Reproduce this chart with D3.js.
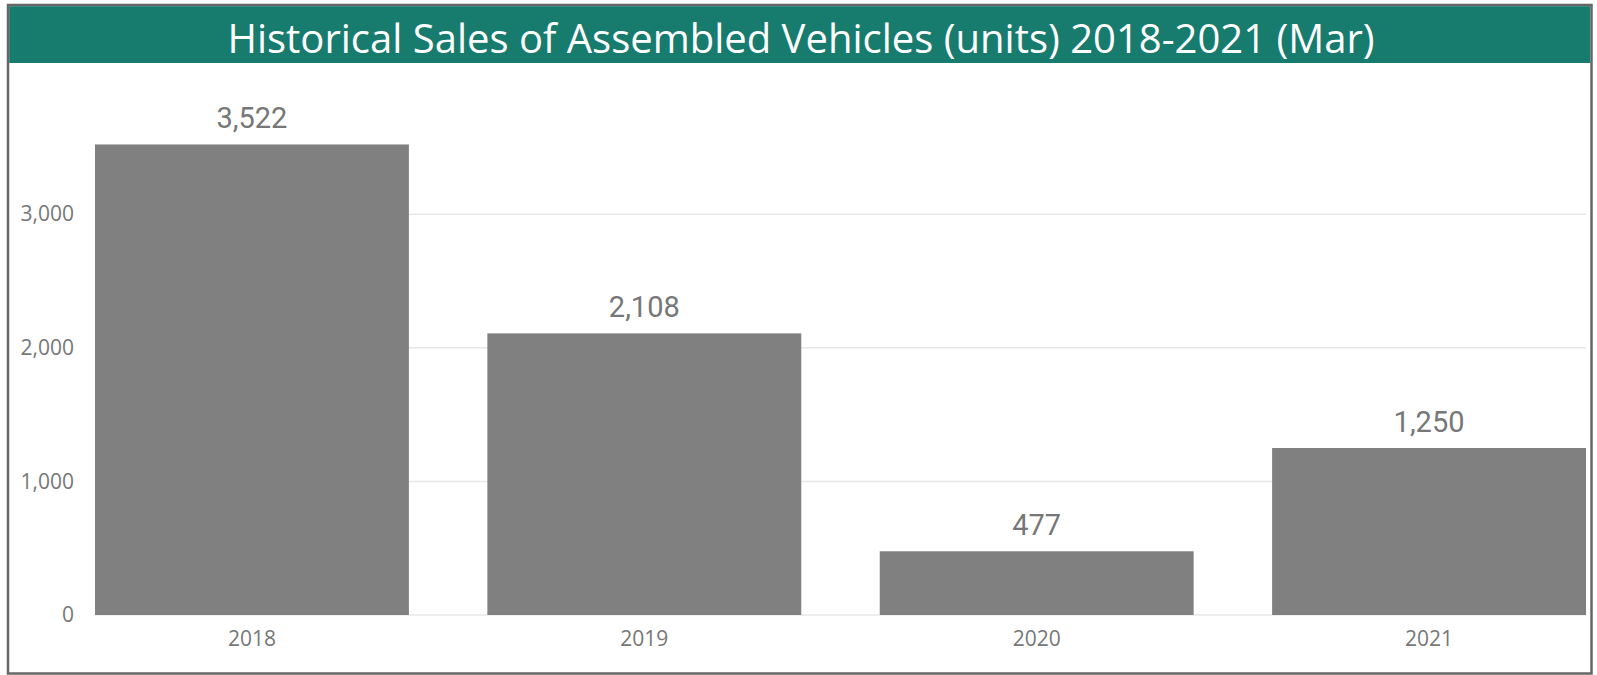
<!DOCTYPE html>
<html>
<head>
<meta charset="utf-8">
<script src="https://cdn.jsdelivr.net/npm/d3@7"></script>
<style>
  html, body { margin: 0; padding: 0; background: #fff; overflow: hidden; }
  svg { display: block; }
  text { font-family: "Open Sans", "Noto Sans", sans-serif; }
</style>
</head>
<body>
<div id="chart"></div>
<script>
// data
const years = ["2018", "2019", "2020", "2021"];
const units = [3522, 2108, 477, 1250];
const yTicks = [0, 1000, 2000, 3000];
const title = "Historical Sales of Assembled Vehicles (units) 2018-2021 (Mar)";

const W = 1597, H = 675;
const svg = d3.select("#chart").append("svg")
    .attr("width", W)
    .attr("height", H);

// outer frame
svg.append("rect")
    .attr("x", 8).attr("y", 5)
    .attr("width", 1583.5).attr("height", 668.5)
    .attr("fill", "#fff")
    .attr("stroke", "#666")
    .attr("stroke-width", 2.5);

// title band
svg.append("rect")
    .attr("x", 9.2).attr("y", 6.2)
    .attr("width", 1581).attr("height", 56.8)
    .attr("fill", "#177b6e");
svg.append("text")
    .attr("x", 801).attr("y", 53)
    .attr("text-anchor", "middle")
    .attr("fill", "#fff")
    .attr("font-size", 40)
    .text(title);

// scales
const x = d3.scaleBand()
    .domain(years)
    .range([95, 1586])
    .paddingInner(0.2)
    .paddingOuter(0);

const y = d3.scaleLinear()
    .domain([0, 4000])
    .range([615, 80.6]);

// gridlines
svg.append("g")
    .selectAll("line")
    .data(yTicks)
    .enter().append("line")
        .attr("x1", 95).attr("x2", 1586)
        .attr("y1", d => y(d)).attr("y2", d => y(d))
        .attr("stroke", "#e8e8e8")
        .attr("stroke-width", 1.5);

// y axis labels
const gy = svg.append("g")
    .attr("transform", "translate(74,0)")
    .call(d3.axisLeft(y).tickValues(yTicks).tickFormat(d3.format(",")).tickSize(0).tickPadding(0));
gy.select(".domain").remove();
gy.selectAll("text")
    .attr("font-size", 21)
    .attr("fill", "#777")
    .style("font-family", "'Open Sans', sans-serif");

// x axis labels
const gx = svg.append("g")
    .attr("transform", "translate(0,615)")
    .call(d3.axisBottom(x).tickSize(0).tickPadding(0));
gx.select(".domain").remove();
gx.selectAll("text")
    .attr("dy", null)
    .attr("y", 31)
    .attr("font-size", 21)
    .attr("fill", "#777")
    .style("font-family", "'Open Sans', sans-serif");

// bars
svg.append("g")
    .selectAll("rect")
    .data(units)
    .enter().append("rect")
        .attr("x", (d, i) => x(years[i]))
        .attr("y", d => y(d))
        .attr("width", x.bandwidth())
        .attr("height", d => y(0) - y(d))
        .attr("fill", "#808080");

// value labels
svg.append("g")
    .selectAll("text")
    .data(units)
    .enter().append("text")
        .attr("x", (d, i) => x(years[i]) + x.bandwidth() / 2)
        .attr("y", d => y(d) - 16)
        .attr("text-anchor", "middle")
        .attr("font-size", 29)
        .attr("fill", "#777")
        .style("font-family", "Roboto, sans-serif")
        .text(d => d3.format(",")(d));
</script>
</body>
</html>
